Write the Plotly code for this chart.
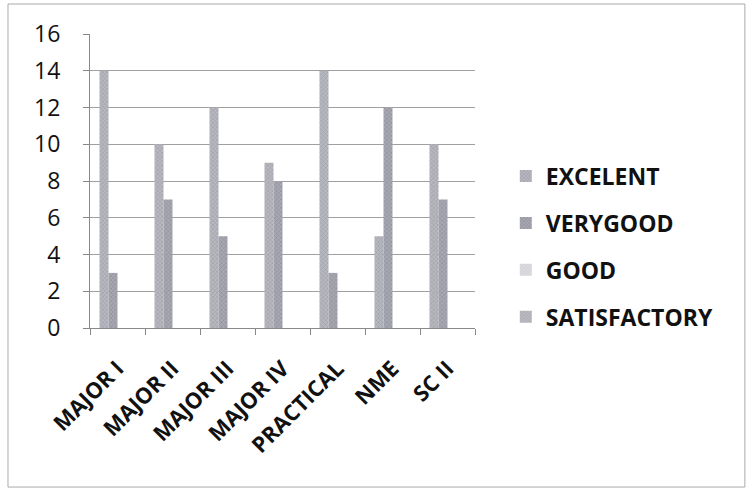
import plotly.graph_objects as go

categories = ["MAJOR I", "MAJOR II", "MAJOR III", "MAJOR IV", "PRACTICAL", "NME", "SC II"]
series_names = ["EXCELENT", "VERYGOOD", "GOOD", "SATISFACTORY"]
excelent = [14, 10, 12, 9, 14, 5, 10]
verygood = [3, 7, 5, 8, 3, 12, 7]
good = [0, 0, 0, 0, 0, 0, 0]
satisfactory = [0, 0, 0, 0, 0, 0, 0]
y_ticks = [0, 2, 4, 6, 8, 10, 12, 14, 16]

values = [excelent, verygood, good, satisfactory]
bg_colors = ["#b8b8c0", "#a8a8b2", "#dcdce0", "#bcbcc2"]
fg_colors = ["#80808a", "#72727c", "#bcbcc0", "#88888f"]

fig = go.Figure()
for i, (name, vals) in enumerate(zip(series_names, values)):
    fig.add_trace(go.Bar(
        x=categories, y=vals, name=name, legendgroup=name,
        marker=dict(color=bg_colors[i], line=dict(width=0),
                    pattern=dict(shape="x", size=3, solidity=0.35,
                                 fgcolor=fg_colors[i], bgcolor=bg_colors[i])),
    ))

fig.update_layout(
    width=751, height=491,
    margin=dict(l=90, r=276, t=34, b=163),
    paper_bgcolor="white", plot_bgcolor="white",
    barmode="group", bargap=0.345, bargroupgap=0,
    font=dict(family="Open Sans", color="#111111"),
    legend=dict(x=1.08, y=0.277, xanchor="left", yanchor="middle",
                font=dict(size=23, family="Open Sans", color="#111111", weight="bold"),
                tracegroupgap=14, itemsizing="constant",
                bgcolor="rgba(0,0,0,0)"),
    showlegend=True,
)
fig.update_xaxes(
    type="category", tickson="boundaries", ticks="outside", ticklen=6,
    tickcolor="#888888", showline=True, linecolor="#888888", linewidth=1,
    tickangle=-45, ticklabelstandoff=18,
    tickfont=dict(size=22, family="Open Sans", color="#111111", weight="bold"),
    showgrid=False,
)
fig.update_yaxes(
    range=[0, 16], tickvals=y_ticks, ticks="outside", ticklen=6,
    tickcolor="#888888", showline=True, linecolor="#888888", linewidth=1,
    showgrid=True, gridcolor="#a0a0a0", gridwidth=1, ticklabelstandoff=18,
    tickfont=dict(size=23, family="Open Sans", color="#111111"),
    zeroline=False,
)
fig.add_shape(type="rect", xref="paper", yref="paper",
              x0=-0.213, x1=1.701, y0=-0.541, y1=1.102,
              line=dict(color="#aaaaaa", width=1), fillcolor="rgba(0,0,0,0)")

fig.write_html("out.html", config={"displayModeBar": False},
               post_script="document.body.style.margin='0';")
